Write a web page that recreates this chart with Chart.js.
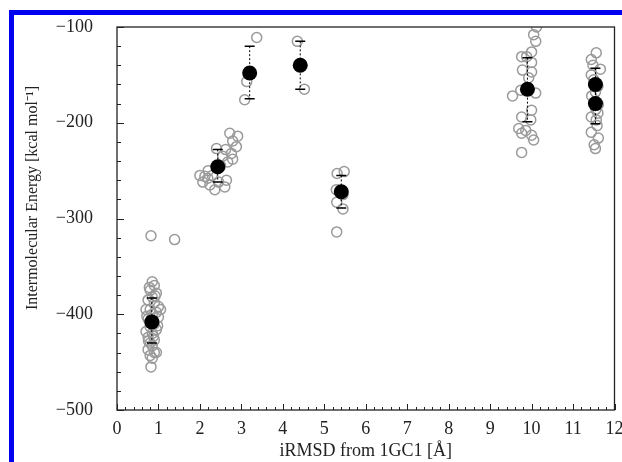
<!DOCTYPE html>
<html>
<head>
<meta charset="utf-8">
<script src="https://cdn.jsdelivr.net/npm/chart.js@4"></script>
<style>
  html, body { margin:0; padding:0; background:#fff; overflow:hidden; }
  #wrap { position:relative; width:622px; height:462px; }
  #blue { position:absolute; left:9px; top:10px; width:700px; height:600px; border:5px solid #0000f0; }
  #chart { position:absolute; left:0; top:0; }
</style>
</head>
<body>
<div id="wrap">
  <div id="blue"></div>
  <canvas id="chart" width="622" height="462"></canvas>
</div>
<script>
// Individual runs (open grey circles)
const runX = [
  0.82, 1.39,
  0.85, 0.90, 0.80, 0.95, 0.85, 0.75, 0.90, 1.00, 0.80, 0.95, 0.85, 1.00, 0.75, 0.90, 0.80,
  0.95, 0.85, 0.75, 0.90, 0.80, 0.85, 0.75, 0.90, 0.80, 0.85, 0.95, 0.82, 0.70, 1.05, 0.70,
  0.78, 0.92, 0.72, 0.88, 0.98, 0.76,
  2.72, 2.91, 2.79, 2.88, 2.40, 2.62, 2.76, 2.79, 2.67, 2.12, 2.07, 2.24, 2.36, 2.64, 2.60,
  2.19, 2.00, 2.20, 2.50, 2.55, 2.30, 2.45,
  3.37, 3.13, 3.08,
  4.35, 4.52,
  5.48, 5.31, 5.29, 5.45, 5.30, 5.45, 5.30,
  10.12, 10.05, 10.10, 10.00, 9.76, 9.88, 10.00, 9.78, 10.00, 9.93, 9.74, 10.10, 9.54, 10.00,
  9.76, 9.98, 9.69, 9.86, 10.00, 9.76, 10.05, 9.76,
  11.56, 11.44, 11.66, 11.44, 11.54, 11.61, 11.44, 11.56, 11.44, 11.61, 11.51, 11.54,
  11.50, 11.60, 11.45, 11.55, 11.60, 11.48, 11.58
];
const runE = [
  -318, -322,
  -366, -370, -375, -378, -382, -385, -388, -392, -395, -398, -400, -403, -405, -410, -413,
  -416, -420, -424, -427, -430, -433, -437, -440, -443, -446, -440, -455, -418, -395, -395,
  -372, -381, -402, -423, -412, -428,
  -211, -214, -219, -225, -227, -228, -232, -238, -241, -256, -262, -265, -270, -260, -267,
  -258, -255, -250, -245, -235, -255, -262,
  -111, -157, -176,
  -115, -165,
  -251, -253, -270, -275, -283, -290, -314,
  -100, -108, -115, -126, -131, -131, -137, -145, -147, -153, -166, -169, -172, -187,
  -194, -197, -206, -208, -213, -211, -218, -231,
  -127, -134, -144, -150, -168, -181, -194, -197, -210, -216, -223, -227,
  -155, -162, -172, -186, -190, -140, -203
];

// Cluster averages (filled black) with their spread
const meanX  = [0.84, 2.43, 3.20, 4.42, 5.41, 9.90, 11.54, 11.54];
const meanE  = [-408, -246, -148, -140, -272, -165, -160, -180];
const errTop = [-383, -228, -120, -115, -255, -132, -143, -165];
const errBot = [-430, -262, -175, -165, -289, -199, -178, -201];

const xTicks = [0, 1, 2, 3, 4, 5, 6, 7, 8, 9, 10, 11, 12];
const yTicks = [-500, -400, -300, -200, -100];

const serif = '"Liberation Serif", "Times New Roman", serif';

// frame, inward ticks, error bars, y title
const decor = {
  id: 'decor',
  afterDatasetDraw(chart, args){
    if (args.index !== 1) return;
    const { ctx, scales:{ x, y } } = chart;
    ctx.save();
    ctx.strokeStyle = '#000';
    ctx.lineWidth = 1;
    meanX.forEach((mx, i) => {
      const px = x.getPixelForValue(mx);
      const t = y.getPixelForValue(errTop[i]), b = y.getPixelForValue(errBot[i]);
      ctx.setLineDash([2, 2]);
      ctx.beginPath(); ctx.moveTo(px, t); ctx.lineTo(px, b); ctx.stroke();
      ctx.setLineDash([]);
      ctx.lineWidth = 1.5;
      ctx.beginPath();
      ctx.moveTo(px - 5, t); ctx.lineTo(px + 5, t);
      ctx.moveTo(px - 5, b); ctx.lineTo(px + 5, b);
      ctx.stroke();
      ctx.lineWidth = 1;
    });
    ctx.restore();
  },
  afterDraw(chart){
    const { ctx, chartArea:a, scales:{ x, y } } = chart;
    ctx.save();
    ctx.strokeStyle = '#222';
    ctx.lineWidth = 1.3;
    ctx.strokeRect(a.left, a.top, a.right - a.left, a.bottom - a.top);
    ctx.lineWidth = 1;
    ctx.beginPath();
    for (let i = 0; i <= 60; i++) {
      const px = Math.round(x.getPixelForValue(i / 5)) + 0.5;
      ctx.moveTo(px, a.bottom); ctx.lineTo(px, a.bottom - (i % 5 === 0 ? 6 : 3));
    }
    for (let i = 0; i <= 20; i++) {
      const py = Math.round(y.getPixelForValue(-500 + i * 20)) + 0.5;
      ctx.moveTo(a.left, py); ctx.lineTo(a.left + (i % 5 === 0 ? 7 : 4), py);
    }
    ctx.stroke();
    // y axis title
    ctx.translate(33, 198);
    ctx.rotate(-Math.PI / 2);
    ctx.fillStyle = '#222';
    ctx.font = '16px ' + serif;
    ctx.textAlign = 'center';
    ctx.textBaseline = 'middle';
    ctx.fillText('Intermolecular Energy [kcal mol\u207B\u00B9]', 0, 0);
    ctx.restore();
  }
};

new Chart(document.getElementById('chart'), {
  type: 'scatter',
  data: {
    datasets: [
      {
        label: 'average',
        data: meanX.map((v, i) => ({ x: v, y: meanE[i] })),
        pointRadius: 7.5,
        pointBackgroundColor: '#000',
        pointBorderColor: '#000',
        pointBorderWidth: 0
      },
      {
        label: 'runs',
        data: runX.map((v, i) => ({ x: v, y: runE[i] })),
        pointRadius: 5,
        pointBackgroundColor: 'rgba(0,0,0,0)',
        pointBorderColor: '#9a9a9a',
        pointBorderWidth: 1.5
      }
    ]
  },
  options: {
    responsive: false,
    animation: false,
    layout: { padding: { left: 0, right: 6, top: 27, bottom: 0 } },
    plugins: { legend: { display: false }, tooltip: { enabled: false } },
    scales: {
      x: {
        type: 'linear', min: 0, max: 12,
        afterBuildTicks: s => { s.ticks = xTicks.map(v => ({ value: v })); },
        afterFit: s => { s.height = 52; s.paddingLeft = 0; s.paddingRight = 0; },
        grid: { display: false, drawTicks: false },
        border: { display: false },
        ticks: { padding: 8, color: '#222', font: { family: serif, size: 18 }, maxRotation: 0 },
        title: { display: true, text: 'iRMSD from 1GC1 [Å]', color: '#222',
                 font: { family: serif, size: 18 }, padding: { top: 0, bottom: 0 } }
      },
      y: {
        type: 'linear', min: -500, max: -100,
        afterBuildTicks: s => { s.ticks = yTicks.map(v => ({ value: v })); },
        afterFit: s => { s.width = 117; s.paddingTop = 0; s.paddingBottom = 0; },
        grid: { display: false, drawTicks: false },
        border: { display: false },
        ticks: { padding: 24, color: '#222', font: { family: serif, size: 18 },
                 callback: v => String(v).replace('-', '\u2212') }
      }
    }
  },
  plugins: [decor]
});
</script>
</body>
</html>
